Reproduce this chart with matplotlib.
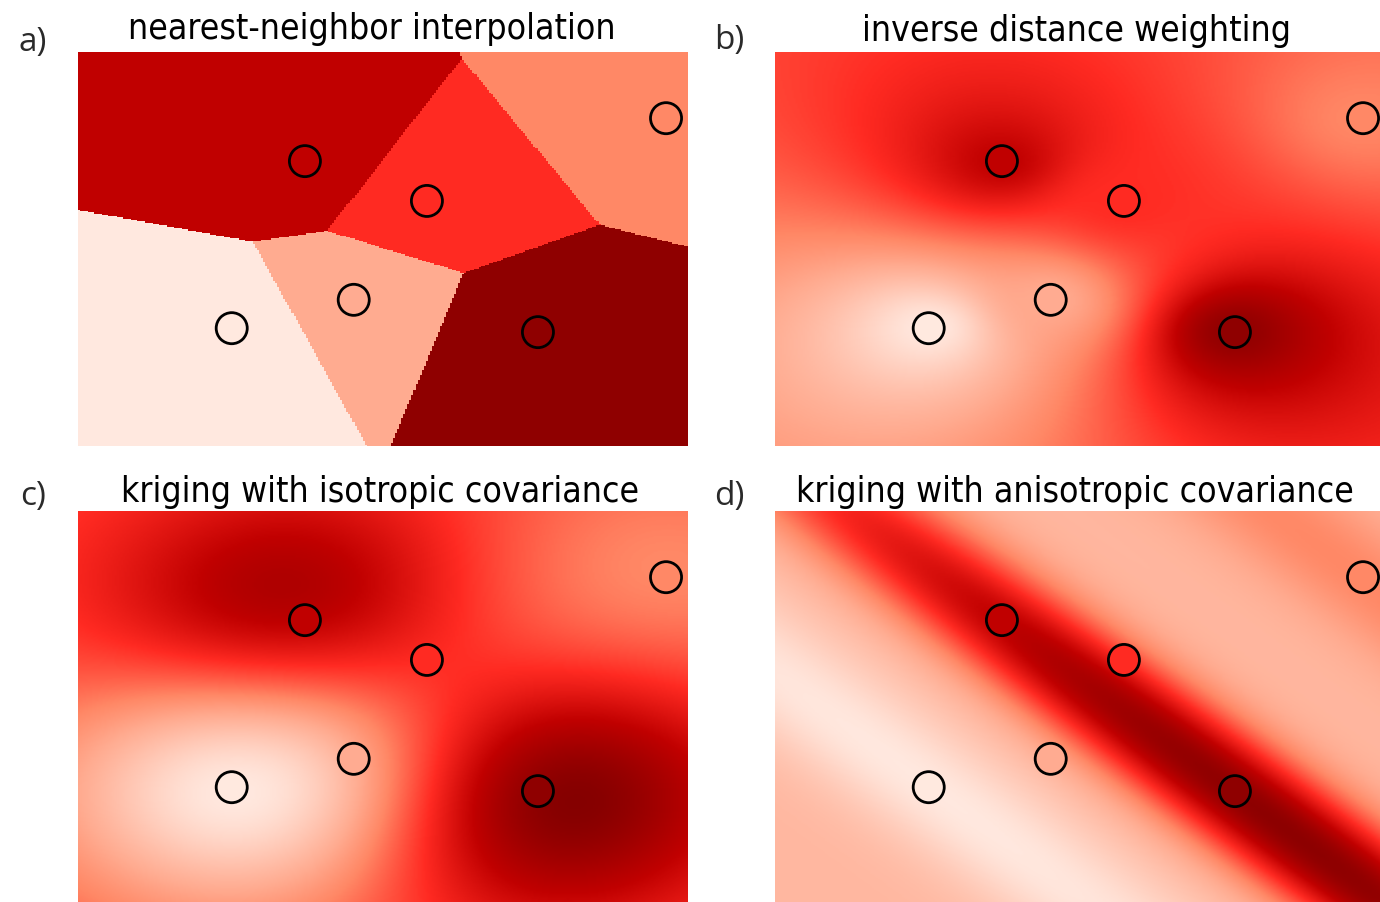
import numpy as np
import matplotlib
matplotlib.use("Agg")
import matplotlib.pyplot as plt
from matplotlib.colors import LinearSegmentedColormap

# sample points (unit square) and their values
pt_x = [0.372, 0.572, 0.964, 0.252, 0.452, 0.754]
pt_y = [0.723, 0.622, 0.832, 0.299, 0.371, 0.289]
pt_val = [0.80, 0.62, 0.42, 0.05, 0.30, 0.95]

titles = ["nearest-neighbor interpolation", "inverse distance weighting",
          "kriging with isotropic covariance", "kriging with anisotropic covariance"]
labels = ["a)", "b)", "c)", "d)"]

cmap_pos = [0.0, 0.30, 0.42, 0.62, 0.80, 1.0]
cmap_col = ["#fff4ee", "#ffab90", "#ff8866", "#ff2a22", "#c00000", "#800000"]
cmap = LinearSegmentedColormap.from_list("reds_custom", list(zip(cmap_pos, cmap_col)))

px = np.array(pt_x)
py = np.array(pt_y)
pv = np.array(pt_val)

n = 300
gx, gy = np.meshgrid(np.linspace(0, 1, n), np.linspace(0, 1, n))


def nearest(gx, gy):
    d = (gx[..., None] - px) ** 2 + (gy[..., None] - py) ** 2
    return pv[np.argmin(d, axis=-1)]


def idw(gx, gy, p=2):
    d = np.sqrt((gx[..., None] - px) ** 2 + (gy[..., None] - py) ** 2)
    w = 1.0 / np.maximum(d, 1e-9) ** p
    return (w * pv).sum(-1) / w.sum(-1)


def kriging(gx, gy, L_along, L_across, angle=0.0, mean=None, nugget=1e-6):
    # ordinary kriging if mean is None, else simple kriging around that mean
    c, s = np.cos(angle), np.sin(angle)

    def dist(ax, ay, bx, by):
        dx = ax - bx
        dy = ay - by
        u = (dx * c + dy * s) / L_along
        v = (-dx * s + dy * c) / L_across
        return np.sqrt(u ** 2 + v ** 2)

    def cov(h):
        return np.exp(-h ** 2)

    m = len(pv)
    C = cov(dist(px[:, None], py[:, None], px[None, :], py[None, :])) + nugget * np.eye(m)
    k = cov(dist(gx[..., None], gy[..., None], px, py)).reshape(-1, m)
    if mean is not None:
        w = np.linalg.solve(C, k.T).T
        return (mean + w @ (pv - mean)).reshape(gx.shape)
    K = np.ones((m + 1, m + 1))
    K[:m, :m] = C
    K[m, m] = 0.0
    k0 = np.hstack([k, np.ones((k.shape[0], 1))])
    w = np.linalg.solve(K, k0.T).T
    return (w[:, :m] @ pv).reshape(gx.shape)


ridge = np.arctan2(pt_y[5] - pt_y[0], pt_x[5] - pt_x[0])

fields = [
    nearest(gx, gy),
    idw(gx, gy),
    kriging(gx, gy, 0.32, 0.32),
    kriging(gx, gy, 1.5, 0.12, angle=ridge, mean=0.25),
]

fig = plt.figure(figsize=(13.8, 9.03), dpi=100)
W, H = 1380.0, 903.0
boxes = [(78, 53), (775, 53), (78, 512), (775, 512)]
title_pos = [(372, 29), (1076, 31), (380, 492), (1075, 492)]
label_pos = [(33, 42), (729, 41), (33, 497), (729, 497)]

for i in range(4):
    x0, y0 = boxes[i]
    ax = fig.add_axes([x0 / W, 1 - (y0 + 394) / H, 610 / W, 394 / H])
    interp = "nearest" if i == 0 else "bilinear"
    ax.imshow(fields[i], origin="lower", extent=[0, 1, 0, 1], cmap=cmap,
              vmin=0, vmax=1, aspect="auto", interpolation=interp)
    ax.scatter(px, py, c=pv, cmap=cmap, vmin=0, vmax=1, s=500,
               edgecolors="black", linewidths=2.0, zorder=3)
    ax.set_xlim(0, 1)
    ax.set_ylim(0, 1)
    ax.axis("off")
    tx, ty = title_pos[i]
    fig.text(tx / W, 1 - ty / H, titles[i], ha="center", va="center",
             fontsize=25.5, family="DejaVu Sans", stretch="condensed")
    lx, ly = label_pos[i]
    fig.text(lx / W, 1 - ly / H, labels[i], ha="center", va="center",
             fontsize=24, color="#2a2a2a", family=["Open Sans", "DejaVu Sans"])

fig.savefig("out.png", dpi=100)
